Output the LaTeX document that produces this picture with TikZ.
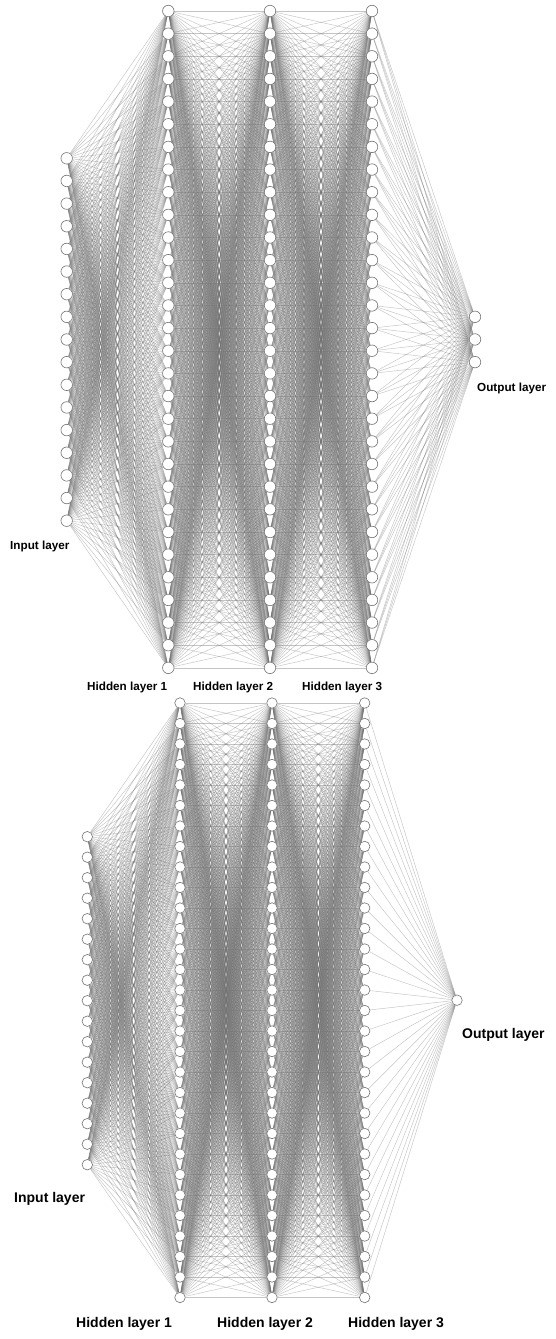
\documentclass[tikz,border=0pt]{standalone}
\usepackage{fontspec}
\setmainfont{Liberation Sans}
\pgfdeclarelayer{paper}
\pgfdeclarelayer{bg}
\pgfsetlayers{paper,bg,main}
\begin{document}
\begin{tikzpicture}[x=1pt,y=-1pt,
  neuron/.style={circle,draw=black!55,fill=white,line width=0.6pt,minimum size=11.5pt,inner sep=0pt},
  neuronb/.style={neuron,minimum size=10.5pt},
  link/.style={draw=black!55,line width=0.45pt,draw opacity=0.42},
  lbltop/.style={anchor=base west,inner sep=0pt,font=\bfseries\fontsize{11.7}{12}\selectfont},
  lblbot/.style={anchor=base west,inner sep=0pt,font=\bfseries\fontsize{14}{15}\selectfont}]
\begin{pgfonlayer}{paper}
\fill[white] (0,0) rectangle (555,1339);
\end{pgfonlayer}
\useasboundingbox (0,0) rectangle (555,1339);
% ---------- top network ----------
\foreach \i in {1,...,17} \node[neuron] (T0-\i) at (66.7,{158.3+22.65*(\i-1)}) {};
\foreach \i in {1,...,30} {
  \node[neuron] (T1-\i) at (168.3,{11+22.65*(\i-1)}) {};
  \node[neuron] (T2-\i) at (270,{11+22.65*(\i-1)}) {};
  \node[neuron] (T3-\i) at (372,{11+22.65*(\i-1)}) {};
}
\foreach \i in {1,...,3} \node[neuron] (T4-\i) at (475,{316.8+22.65*(\i-1)}) {};
% ---------- bottom network ----------
\foreach \i in {1,...,17} \node[neuronb] (B0-\i) at (87.3,{836.7+20.5*(\i-1)}) {};
\foreach \i in {1,...,30} {
  \node[neuronb] (B1-\i) at (180,{703+20.5*(\i-1)}) {};
  \node[neuronb] (B2-\i) at (272,{703+20.5*(\i-1)}) {};
  \node[neuronb] (B3-\i) at (364.7,{703+20.5*(\i-1)}) {};
}
\node[neuronb] (B4-1) at (457,1000.2) {};
% ---------- connections ----------
\begin{pgfonlayer}{bg}
\foreach \j in {1,...,30} {
  \foreach \i in {1,...,17} {\draw[link] (T0-\i) -- (T1-\j); \draw[link] (B0-\i) -- (B1-\j);}
  \foreach \i in {1,...,30} {
    \draw[link] (T1-\i) -- (T2-\j); \draw[link] (T2-\i) -- (T3-\j);
    \draw[link] (B1-\i) -- (B2-\j); \draw[link] (B2-\i) -- (B3-\j);
  }
  \foreach \k in {1,...,3} \draw[link] (T3-\j) -- (T4-\k);
  \draw[link] (B3-\j) -- (B4-1);
}
\end{pgfonlayer}
% ---------- labels ----------
\node[lbltop] (LTin) at (10,549) {Input layer};
\node[lbltop] (LTh1) at (87,690) {Hidden layer 1};
\node[lbltop] (LTh2) at (193,690) {Hidden layer 2};
\node[lbltop] (LTh3) at (302,690) {Hidden layer 3};
\node[lbltop] (LTout) at (477,391) {Output layer};
\node[lblbot] (LBin) at (14,1202) {Input layer};
\node[lblbot] (LBh1) at (76,1327) {Hidden layer 1};
\node[lblbot] (LBh2) at (217,1327) {Hidden layer 2};
\node[lblbot] (LBh3) at (348,1327) {Hidden layer 3};
\node[lblbot] (LBout) at (462,1038) {Output layer};
\end{tikzpicture}
\end{document}
